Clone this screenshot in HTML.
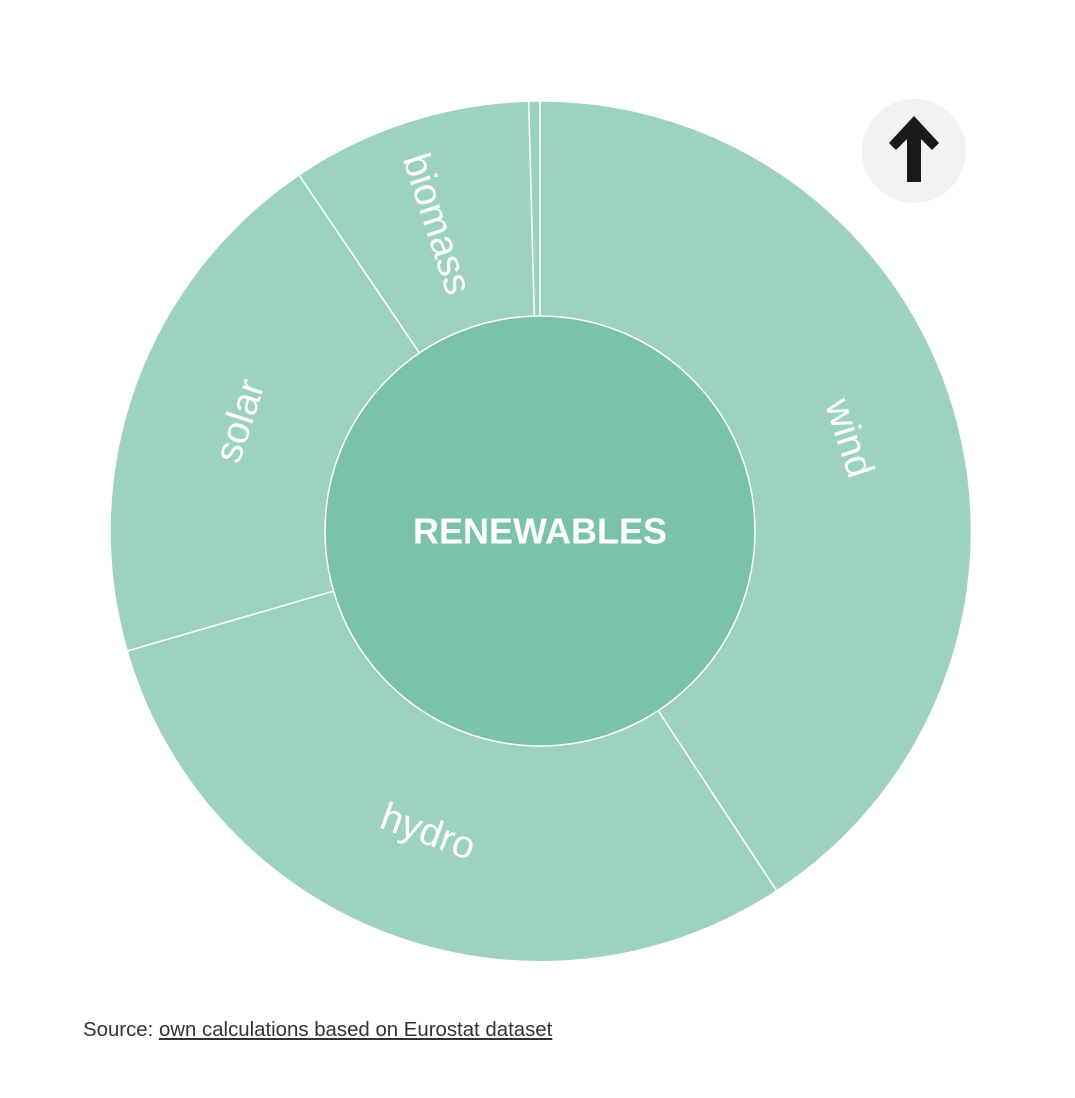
<!DOCTYPE html>
<html><head><meta charset="utf-8"><style>
html,body{margin:0;padding:0;background:#fff;width:1075px;height:1098px;overflow:hidden;}
.src{position:absolute;left:83px;top:1019px;font:20.4px "Liberation Sans",sans-serif;color:#333;}
.src span{text-decoration:underline;}
</style></head><body>
<svg width="1075" height="1098" style="position:absolute;left:0;top:0">
<g stroke="#fff" stroke-width="1.5" fill="#9dd2bf">
<path d="M540,531 L540,101 A430,430 0 0 1 776.7,890.9 Z"/>
<path d="M540,531 L776.7,890.9 A430,430 0 0 1 127.1,651 Z"/>
<path d="M540,531 L127.1,651 A430,430 0 0 1 299,175 Z"/>
<path d="M540,531 L299,175 A430,430 0 0 1 528.7,101.1 Z"/>
<path d="M540,531 L528.7,101.1 A430,430 0 0 1 540,101 Z"/>
</g>
<circle cx="540" cy="531" r="215" fill="#7ac3a9" stroke="#fff" stroke-width="1.5"/>
<g font-family="Liberation Sans, sans-serif" font-size="39" fill="#fff" text-anchor="middle" dominant-baseline="central">
<text transform="translate(849,438) rotate(72)">wind</text>
<text transform="translate(428,832) rotate(20)">hydro</text>
<text transform="translate(240,421) rotate(-72)">solar</text>
<text transform="translate(437,224) rotate(72)">biomass</text>
<text x="540" y="531" font-weight="bold" font-size="36">RENEWABLES</text>
</g>
<circle cx="914" cy="151" r="52" fill="#f2f2f2"/>
<path d="M907,182 L921,182 L921,139 L932,150 L939,143 L914,116 L889,143 L896,150 L907,139 Z" fill="#1a1a1a"/>
</svg>
<div class="src">Source: <span>own calculations based on Eurostat dataset</span></div>
</body></html>
